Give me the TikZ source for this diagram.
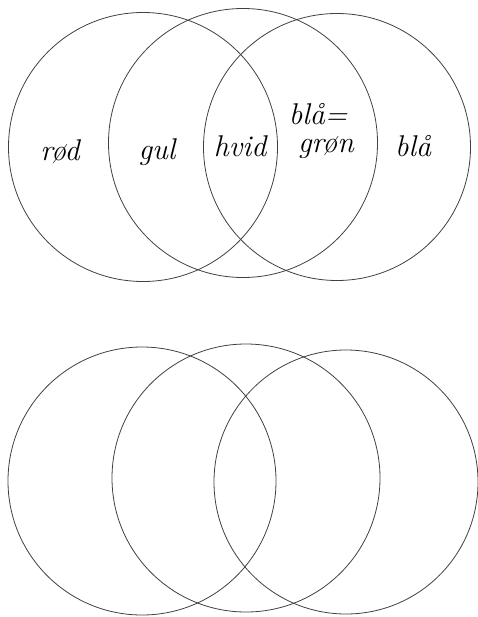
\documentclass[tikz,border=0pt]{standalone}
\usepackage{tikz}
\usetikzlibrary{positioning}

\begin{document}
\begin{tikzpicture}[x=1pt, y=-1pt,
  ring/.style={draw=black!75, circle, line width=0.8pt, inner sep=0pt},
  word/.style={font=\itshape\fontsize{30}{34}\selectfont, inner sep=0pt}]
  \useasboundingbox (0,0) rectangle (478,617);
  % upper diagram
  \node (r1) [ring, minimum size=269pt] at (143,147) {};
  \node (g1) [ring, minimum size=269pt] at (243,143) {};
  \node (b1) [ring, minimum size=267pt] at (337,147) {};
  \node (rod)  [word] at (60,152)  {rød};
  \node (gul)  [word] at (157,152) {gul};
  \node (hvid) [word] at (240,146) {hvid};
  \node (blaa) [word] at (318,114) {blå=};
  \node (gron) [word] at (326,148) {grøn};
  \node (bla)  [word] at (413,146) {blå};
  % lower diagram
  \node (r2) [ring, minimum size=268pt] at (142,481) {};
  \node (g2) [ring, minimum size=268pt] at (246,478) {};
  \node (b2) [ring, minimum size=264pt] at (346,482) {};
\end{tikzpicture}
\end{document}
